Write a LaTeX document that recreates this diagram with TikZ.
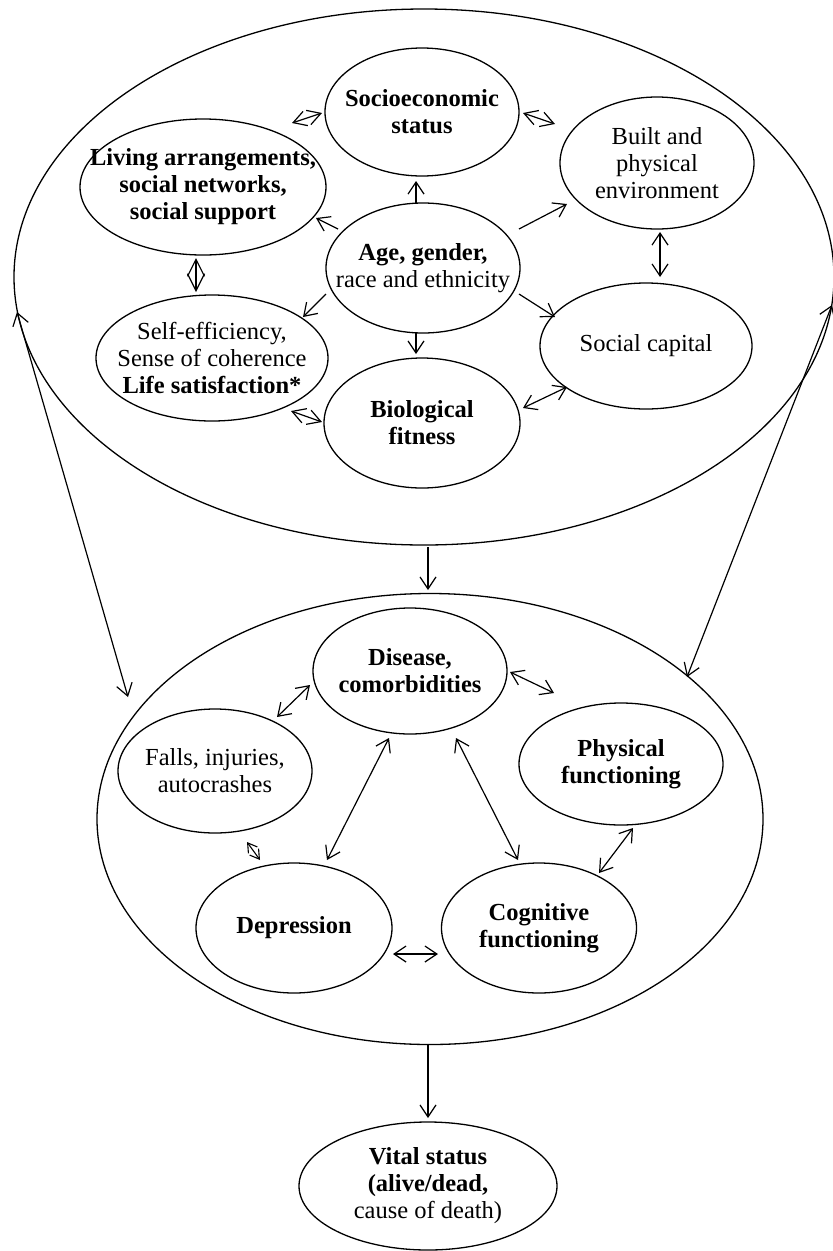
\documentclass[tikz,border=0pt]{standalone}
\usepackage{fontspec}
\setmainfont{Liberation Serif}
\usetikzlibrary{arrows.meta,shapes.geometric}
\newcommand{\figfs}{\fontsize{24.5}{27}\selectfont}
\begin{document}
\begin{tikzpicture}[x=1pt,y=-1pt,
  ell/.style={draw, ellipse, line width=1.3pt, inner sep=0pt},
  txt/.style={align=center, font=\figfs, inner sep=0pt},
  tip/.tip={Straight Barb[length=12pt,width=16pt]},
  shorttip/.tip={Straight Barb[length=13pt,width=15pt]},
  arr/.style={line width=1.2pt, -tip},
  darr/.style={line width=1.2pt, tip-tip},
  sdarr/.style={line width=1.2pt, shorttip-shorttip}]
\useasboundingbox (0,0) rectangle (833,1251);
% big ellipses
\node[ell, minimum width=820pt, minimum height=536pt] (top) at (424,277) {};
\node[ell, minimum width=666pt, minimum height=451pt] (bot) at (430,819) {};
% top inner ellipses
\node[ell, minimum width=194pt, minimum height=128pt] (soc) at (422,112) {};
\node[ell, minimum width=246pt, minimum height=136pt] (liv) at (203,187) {};
\node[ell, minimum width=194pt, minimum height=132pt] (blt) at (657,163) {};
\node[ell, minimum width=194pt, minimum height=130pt] (age) at (423,268) {};
\node[ell, minimum width=232pt, minimum height=126pt] (slf) at (212,358) {};
\node[ell, minimum width=212pt, minimum height=126pt] (cap) at (646,346) {};
\node[ell, minimum width=196pt, minimum height=130pt] (bio) at (422,423) {};
% bottom inner ellipses
\node[ell, minimum width=194pt, minimum height=126pt] (dis) at (410,671) {};
\node[ell, minimum width=194pt, minimum height=124pt] (fal) at (215,771) {};
\node[ell, minimum width=204pt, minimum height=122pt] (phy) at (621,764) {};
\node[ell, minimum width=196pt, minimum height=130pt] (dep) at (294,928) {};
\node[ell, minimum width=195pt, minimum height=130pt] (cog) at (539,928) {};
\node[ell, minimum width=258pt, minimum height=128pt] (vit) at (428,1186) {};
% texts
\node[txt] (soct) at (soc) {\textbf{Socioeconomic}\\\textbf{status}};
\node[txt] (livt) at (liv) {\textbf{Living arrangements,}\\\textbf{social networks,}\\\textbf{social support}};
\node[txt] (bltt) at (blt) {Built and\\physical\\environment};
\node[txt] (aget) at (age) {\textbf{Age, gender,}\\race and ethnicity};
\node[txt] (slft) at (slf) {Self-efficiency,\\Sense of coherence\\\textbf{Life satisfaction*}};
\node[txt] (capt) at (cap) {Social capital};
\node[txt] (biot) at (bio) {\textbf{Biological}\\\textbf{fitness}};
\node[txt] (dist) at (dis) {\textbf{Disease,}\\\textbf{comorbidities}};
\node[txt] (falt) at (fal) {Falls, injuries,\\autocrashes};
\node[txt] (phyt) at (phy) {\textbf{Physical}\\\textbf{functioning}};
\node[txt] (dept) at (dep) {\textbf{Depression}};
\node[txt] (cogt) at (cog) {\textbf{Cognitive}\\\textbf{functioning}};
\node[txt] (vitt) at (vit) {\textbf{Vital status}\\\textbf{(alive/dead,}\\cause of death)};
% arrows from age
\draw[arr] ([shift={(-7,-65)}]age.center) -- ([shift={(-6,69)}]soc.center);
\draw[arr] ([shift={(-85,-39)}]age.center) -- ([shift={(113,31)}]liv.center);
\draw[arr] ([shift={(96,-39)}]age.center) -- ([shift={(-90,41)}]blt.center);
\draw[arr] ([shift={(-97,26)}]age.center) -- ([shift={(91,-41)}]slf.center);
\draw[arr] ([shift={(96,26)}]age.center) -- ([shift={(-91,-29)}]cap.center);
\draw[arr] ([shift={(-7,64)}]age.center) -- ([shift={(-6,-69)}]bio.center);
% top double arrows
\draw[sdarr] ([shift={(89,-64)}]liv.center) -- ([shift={(-100,1)}]soc.center);
\draw[sdarr] ([shift={(101,1)}]soc.center) -- ([shift={(-102,-39)}]blt.center);
\draw[line width=1.2pt, {Straight Barb[length=17pt,width=17pt]}-{Straight Barb[length=17pt,width=17pt]}] ([shift={(-7,71)}]liv.center) -- ([shift={(-16,-66)}]slf.center);
\draw[darr] ([shift={(3,69)}]blt.center) -- ([shift={(14,-69)}]cap.center);
\draw[sdarr] ([shift={(79,53)}]slf.center) -- ([shift={(-100,-1)}]bio.center);
\draw[darr] ([shift={(101,-15)}]bio.center) -- ([shift={(-79,41)}]cap.center);
% between big ellipses
\draw[arr] ([shift={(4,270)}]top.center) -- ([shift={(-2,-229)}]bot.center);
\draw[darr] ([shift={(-407,35)}]top.center) -- ([shift={(-302,-122)}]bot.center);
\draw[darr] ([shift={(408,28)}]top.center) -- ([shift={(257,-142)}]bot.center);
% bottom double arrows
\draw[darr] ([shift={(-100,14)}]dis.center) -- ([shift={(62,-54)}]fal.center);
\draw[darr] ([shift={(100,1)}]dis.center) -- ([shift={(-67,-71)}]phy.center);
\draw[darr] ([shift={(-21,67)}]dis.center) -- ([shift={(33,-68)}]dep.center);
\draw[darr] ([shift={(46,67)}]dis.center) -- ([shift={(-21,-68)}]cog.center);
\draw[darr] ([shift={(12,64)}]phy.center) -- ([shift={(60,-55)}]cog.center);
\draw[line width=1.1pt, {Straight Barb[length=9pt,width=11pt]}-{Straight Barb[length=9pt,width=11pt]}] ([shift={(32,71)}]fal.center) -- ([shift={(-34,-68)}]dep.center);
\draw[darr] ([shift={(99,26)}]dep.center) -- ([shift={(-101,26)}]cog.center);
\draw[arr] ([shift={(-2,226)}]bot.center) -- ([shift={(0,-68)}]vit.center);
\end{tikzpicture}
\end{document}
